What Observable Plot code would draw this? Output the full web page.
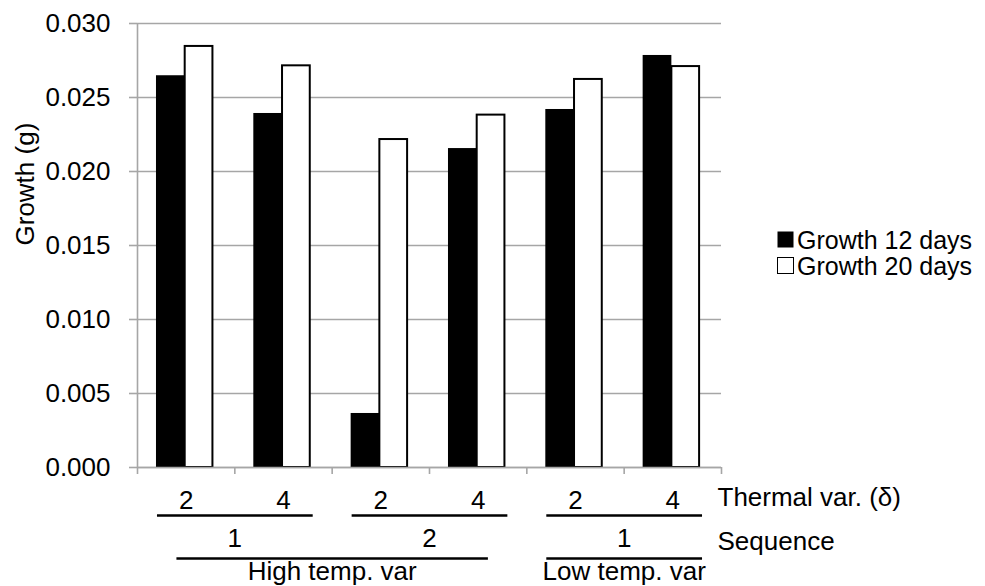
<!DOCTYPE html>
<html><head><meta charset="utf-8">
<script src="https://cdn.jsdelivr.net/npm/d3@7"></script>
<script src="https://cdn.jsdelivr.net/npm/@observablehq/plot@0.6"></script>
<style>
body{margin:0;background:#fff}
#chart{width:985px;height:586px}
</style>
</head><body><div id="chart"></div>
<script>
// ---- data ----
const thermalVar = ["2","4","2","4","2","4"];
const sequence   = ["1","1","2","2","1","1"];
const tempVar    = ["High temp. var","High temp. var","High temp. var","High temp. var","Low temp. var","Low temp. var"];
const growth12   = [0.02647,0.02392,0.00365,0.02155,0.02419,0.02784];
const growth20   = [0.02845,0.02714,0.02216,0.02381,0.02622,0.02709];
const seriesNames = ["Growth 12 days","Growth 20 days"];
const yTicks = [0,0.005,0.010,0.015,0.020,0.025,0.030];
const rowTitles = ["Thermal var. (δ)","Sequence"];

// ---- derived tables ----
const n = thermalVar.length;
const gridGray = "#a6a6a6";
const FS = 26;
const LFS = 25;
const bars = [];
thermalVar.forEach((t,i)=>{
  bars.push({i, s:0, value:growth12[i]});
  bars.push({i, s:1, value:growth20[i]});
});
const barOff = [[0.195,0.49],[0.49,0.775]];
function runs(keyFn, labelFn){
  const out=[]; let start=0;
  for(let i=1;i<=n;i++){
    if(i===n || keyFn(i)!==keyFn(start)){ out.push({start,end:i,label:labelFn(start)}); start=i; }
  }
  return out;
}
const seqRuns = runs(i=>tempVar[i]+"|"+sequence[i], i=>sequence[i]);
const tvRuns  = runs(i=>tempVar[i], i=>tempVar[i]);
const thermalRows = thermalVar.map((t,i)=>({i,label:t}));

const chart = Plot.plot({
  width:985, height:586,
  marginLeft:137, marginRight:264, marginTop:23, marginBottom:119,
  x:{domain:[0,n], axis:null},
  y:{domain:[0,0.03], axis:null},
  style:{fontFamily:"'Liberation Sans', Arial, sans-serif", fontSize:FS+"px", background:"white", color:"black"},
  marks:[
    Plot.gridY(yTicks, {stroke:gridGray, strokeOpacity:1, strokeWidth:1.6}),
    Plot.axisY({ticks:yTicks, tickFormat:d3.format(".3f"), tickSize:8, tickPadding:19, stroke:gridGray, strokeWidth:1.6, fontSize:FS, label:null}),
    Plot.axisX({ticks:d3.range(n+1), tickSize:7, tickFormat:()=>"", stroke:gridGray, strokeWidth:1.6, label:null}),
    Plot.ruleX([0], {stroke:gridGray, strokeWidth:1.6}),
    Plot.rectY(bars, {
      x1:d=>d.i+barOff[d.s][0], x2:d=>d.i+barOff[d.s][1], y:"value",
      fill:d=>d.s===0?"black":"white", stroke:"black", strokeWidth:d=>d.s===0?0:2
    }),
    Plot.ruleY([0], {stroke:gridGray, strokeWidth:1.6}),
    Plot.text(["Growth (g)"], {frameAnchor:"left", dx:-112, rotate:-90, fontSize:FS}),
    // category rows
    Plot.text(thermalRows, {x:d=>d.i+0.5, y:()=>0, dy:33, text:"label", fontSize:FS}),
    Plot.link(seqRuns, {x1:d=>d.start+0.1*(d.end-d.start), x2:d=>d.end-0.1*(d.end-d.start), y1:()=>0, y2:()=>0, dy:48, stroke:"black", strokeWidth:2.5}),
    Plot.text(seqRuns, {x:d=>(d.start+d.end)/2, y:()=>0, dy:71, text:"label", fontSize:FS}),
    Plot.link(tvRuns, {x1:d=>d.start+0.1*(d.end-d.start), x2:d=>d.end-0.1*(d.end-d.start), y1:()=>0, y2:()=>0, dy:91, stroke:"black", strokeWidth:2.5}),
    Plot.text(tvRuns, {x:d=>(d.start+d.end)/2, y:()=>0, dy:104, text:"label", fontSize:FS}),
    Plot.text(rowTitles.slice(0,1), {x:()=>n, y:()=>0, text:d=>d, textAnchor:"start", dx:-4, dy:30, fontSize:FS}),
    Plot.text(rowTitles.slice(1,2), {x:()=>n, y:()=>0, text:d=>d, textAnchor:"start", dx:-4, dy:74, fontSize:FS})
  ]
});
document.getElementById("chart").appendChild(chart);

// legend
const svg = d3.select(chart);
const lg = svg.append("g").attr("font-family","'Liberation Sans', Arial, sans-serif").attr("font-size",LFS).attr("text-anchor","start");
seriesNames.forEach((name,k)=>{
  const y0 = 231 + k*26;
  lg.append("rect").attr("x",777.5).attr("y",y0+0.5).attr("width",16).attr("height",16)
    .attr("fill",k===0?"black":"white").attr("stroke","black").attr("stroke-width",k===0?0:1);
  lg.append("text").attr("x",797).attr("y",y0+17.5).attr("fill","black").attr("text-anchor","start").text(name);
});
</script>
</body></html>
